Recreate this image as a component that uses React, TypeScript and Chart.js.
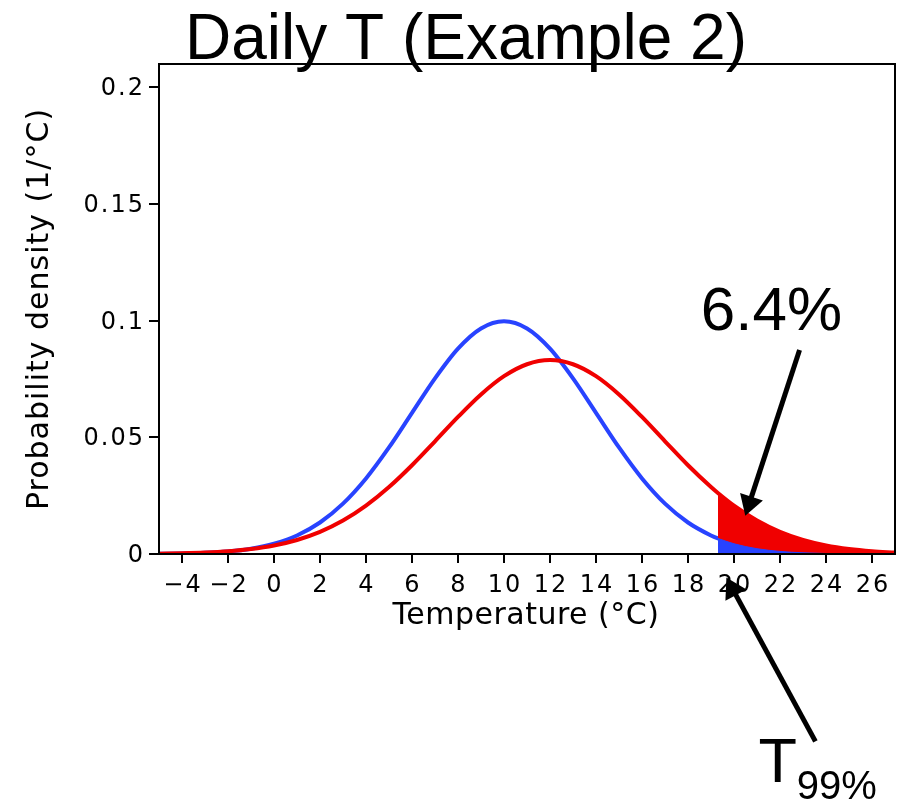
import React, { useEffect, useRef } from 'react';
import { Chart, registerables } from 'chart.js';

Chart.register(...registerables);

// Temperature grid (°C) and the two daily-temperature densities (1/°C)
const temperatures = [
  -5, -4, -3, -2, -1, 0, 1, 2, 3, 4, 5, 6, 7, 8, 9, 10, 11, 12, 13, 14, 15, 16, 17, 18, 19,
  19.3, 20, 21, 22, 23, 24, 25, 26, 27,
];
const presentPdf = [
  0.00009, 0.00022, 0.00051, 0.00111, 0.00227, 0.00438, 0.00794, 0.0135, 0.02158, 0.03238,
  0.04566, 0.06049, 0.07528, 0.08802, 0.09667, 0.09974, 0.09667, 0.08802, 0.07528, 0.06049,
  0.04566, 0.03238, 0.02158, 0.0135, 0.00794, 0.00669, 0.00438, 0.00227, 0.00111, 0.00051,
  0.00022, 0.00009, 0.00003, 0.00001,
];
const futurePdf = [
  0.00016, 0.00032, 0.00063, 0.00118, 0.00212, 0.00365, 0.00601, 0.00949, 0.01433, 0.02073,
  0.0287, 0.03805, 0.04831, 0.05873, 0.06837, 0.0762, 0.08132, 0.08311, 0.08132, 0.0762,
  0.06837, 0.05873, 0.04831, 0.03805, 0.0287, 0.02615, 0.02073, 0.01433, 0.00949, 0.00601,
  0.00365, 0.00212, 0.00118, 0.00063,
];

// 99th percentile of the present-day distribution and the exceedance in the shifted one
const t99 = 19.3;
const exceedanceText = '6.4%';

// Axes
const xRange = [-5, 27];
const yRange = [0, 0.21];
const xTickValues = [-4, -2, 0, 2, 4, 6, 8, 10, 12, 14, 16, 18, 20, 22, 24, 26];
const xTickLabels = ['\u22124', '\u22122', '0', '2', '4', '6', '8', '10', '12', '14', '16', '18', '20', '22', '24', '26'];
const yTickValues = [0, 0.05, 0.1, 0.15, 0.2];
const yTickLabels = ['0', '0.05', '0.1', '0.15', '0.2'];

const titleText = 'Daily T (Example 2)';
const xTitle = 'Temperature (°C)';
const yTitle = 'Probability density (1/°C)';

const BLUE = '#2843ff';
const RED = '#f00000';
const AXIS_FONT = '"DejaVu Sans", sans-serif';
const CALLOUT_FONT = '"Liberation Sans", Arial, sans-serif';

const toPoints = (ys: number[]) => temperatures.map((t, i) => ({ x: t, y: ys[i] }));
const upperTail = (ys: number[]) => toPoints(ys).filter((p) => p.x >= t99);

// Callout anchors in data units (temperature, density)
const pctLabelAt = { x: 21.63, y: 0.0959 };
const pctArrow = { from: { x: 22.85, y: 0.0874 }, to: { x: 20.49, y: 0.0164 } };
const t99LabelAt = { x: 21.06, y: -0.0978 };
const t99Arrow = { from: { x: 23.54, y: -0.0803 }, to: { x: 19.67, y: -0.0101 } };

function drawArrow(ctx: CanvasRenderingContext2D, x0: number, y0: number, x1: number, y1: number) {
  const len = Math.hypot(x1 - x0, y1 - y0);
  const ux = (x1 - x0) / len;
  const uy = (y1 - y0) / len;
  const headLen = 20;
  const headHalf = 12;
  const bx = x1 - ux * headLen;
  const by = y1 - uy * headLen;
  ctx.beginPath();
  ctx.moveTo(x0, y0);
  ctx.lineTo(bx + ux * 2, by + uy * 2);
  ctx.lineWidth = 5;
  ctx.strokeStyle = '#000';
  ctx.stroke();
  ctx.beginPath();
  ctx.moveTo(x1, y1);
  ctx.lineTo(bx - uy * headHalf, by + ux * headHalf);
  ctx.lineTo(bx + uy * headHalf, by - ux * headHalf);
  ctx.closePath();
  ctx.fillStyle = '#000';
  ctx.fill();
}

const decorations = {
  id: 'decorations',
  afterDraw(chart: any) {
    const { ctx, chartArea: a, scales } = chart;
    const sx = (v: number) => scales.x.getPixelForValue(v);
    const sy = (v: number) => scales.y.getPixelForValue(v);
    ctx.save();

    // plot frame
    ctx.strokeStyle = '#000';
    ctx.lineWidth = 2;
    ctx.strokeRect(a.left, a.top, a.right - a.left, a.bottom - a.top);

    // tick labels
    ctx.fillStyle = '#000';
    ctx.textBaseline = 'alphabetic';
    ctx.font = `24px ${AXIS_FONT}`;
    (ctx as any).letterSpacing = '2px';
    ctx.textAlign = 'center';
    xTickValues.forEach((v, i) => ctx.fillText(xTickLabels[i], sx(v) + 1, 592));
    ctx.textAlign = 'right';
    yTickValues.forEach((v, i) => ctx.fillText(yTickLabels[i], 145, sy(v) + 8));

    // title
    (ctx as any).letterSpacing = '0px';
    ctx.textAlign = 'center';
    ctx.font = `64px ${CALLOUT_FONT}`;
    ctx.fillText(titleText, 466, 59);

    // axis titles
    ctx.font = `30px ${AXIS_FONT}`;
    (ctx as any).letterSpacing = '0.5px';
    ctx.fillText(xTitle, (a.left + a.right) / 2 - 1, 624);
    ctx.save();
    (ctx as any).letterSpacing = '1px';
    ctx.translate(48, 309);
    ctx.rotate(-Math.PI / 2);
    ctx.fillText(yTitle, 0, 0);
    ctx.restore();
    (ctx as any).letterSpacing = '0px';

    // exceedance callout
    ctx.font = `62px ${CALLOUT_FONT}`;
    ctx.textAlign = 'center';
    ctx.fillText(exceedanceText, sx(pctLabelAt.x), sy(pctLabelAt.y));
    drawArrow(ctx, sx(pctArrow.from.x), sy(pctArrow.from.y), sx(pctArrow.to.x), sy(pctArrow.to.y));

    // percentile callout
    drawArrow(ctx, sx(t99Arrow.from.x), sy(t99Arrow.from.y), sx(t99Arrow.to.x), sy(t99Arrow.to.y));
    ctx.textAlign = 'left';
    ctx.font = `63px ${CALLOUT_FONT}`;
    const tx = sx(t99LabelAt.x);
    const ty = sy(t99LabelAt.y);
    ctx.fillText('T', tx, ty);
    const tw = ctx.measureText('T').width;
    ctx.font = `40px ${CALLOUT_FONT}`;
    ctx.fillText('99%', tx + tw, ty + 17);

    ctx.restore();
  },
};

export default function App() {
  const canvasRef = useRef<HTMLCanvasElement>(null);

  useEffect(() => {
    const canvas = canvasRef.current;
    if (!canvas) return;
    const common = {
      pointRadius: 0,
      pointHoverRadius: 0,
      cubicInterpolationMode: 'monotone' as const,
    };
    const chart = new Chart(canvas, {
      type: 'line',
      data: {
        datasets: [
          {
            label: 'Present tail',
            data: upperTail(presentPdf),
            borderColor: BLUE,
            borderWidth: 1,
            backgroundColor: BLUE,
            fill: 'origin',
            ...common,
          },
          {
            label: 'Future tail',
            data: upperTail(futurePdf),
            borderColor: RED,
            borderWidth: 1,
            backgroundColor: RED,
            fill: 'origin',
            ...common,
          },
          {
            label: 'Future',
            data: toPoints(futurePdf),
            borderColor: RED,
            borderWidth: 4,
            fill: false,
            ...common,
          },
          {
            label: 'Present',
            data: toPoints(presentPdf),
            borderColor: BLUE,
            borderWidth: 4,
            fill: false,
            ...common,
          },
        ],
      },
      options: {
        animation: false,
        responsive: false,
        events: [],
        layout: { padding: { top: 64, right: 7, left: 0, bottom: 0 } },
        plugins: { legend: { display: false }, tooltip: { enabled: false }, title: { display: false } },
        scales: {
          x: {
            type: 'linear',
            min: xRange[0],
            max: xRange[1],
            afterBuildTicks: (s: any) => {
              s.ticks = xTickValues.map((v) => ({ value: v }));
            },
            afterFit: (s: any) => {
              s.height = 249;
            },
            ticks: { display: false },
            grid: { drawOnChartArea: false, drawTicks: true, tickLength: 9, color: '#000', lineWidth: 2 },
            border: { display: false },
          },
          y: {
            type: 'linear',
            min: yRange[0],
            max: yRange[1],
            afterBuildTicks: (s: any) => {
              s.ticks = yTickValues.map((v) => ({ value: v }));
            },
            afterFit: (s: any) => {
              s.width = 159;
            },
            ticks: { display: false },
            grid: { drawOnChartArea: false, drawTicks: true, tickLength: 10, color: '#000', lineWidth: 2 },
            border: { display: false },
          },
        },
      },
      plugins: [decorations],
    });
    return () => chart.destroy();
  }, []);

  return (
    <div style={{ position: 'absolute', left: 0, top: 0, width: 902, height: 803, background: '#fff' }}>
      <canvas ref={canvasRef} width={902} height={803} style={{ display: 'block', width: 902, height: 803 }} />
    </div>
  );
}
